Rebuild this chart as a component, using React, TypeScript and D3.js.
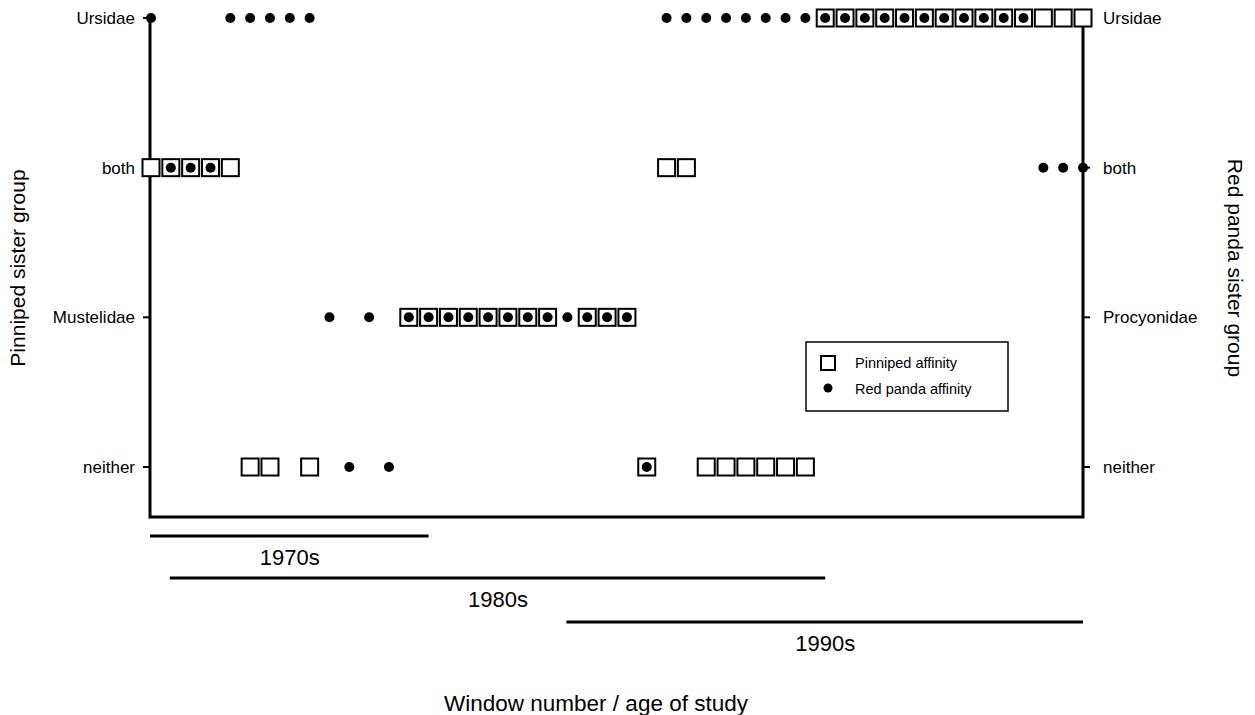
import React from "react";
import * as d3 from "d3";

// row labels on each side (same rows, the third one differs)
const leftLabels = ["Ursidae", "both", "Mustelidae", "neither"];
const rightLabels = ["Ursidae", "both", "Procyonidae", "neither"];

// pinniped sister group per window (0..47), null = no result
const pinniped = [
  "both", "both", "both", "both", "both", "neither", "neither", null, "neither", null,
  null, null, null, "Mustelidae", "Mustelidae", "Mustelidae", "Mustelidae", "Mustelidae", "Mustelidae", "Mustelidae",
  "Mustelidae", null, "Mustelidae", "Mustelidae", "Mustelidae", "neither", "both", "both", "neither", "neither",
  "neither", "neither", "neither", "neither", "Ursidae", "Ursidae", "Ursidae", "Ursidae", "Ursidae", "Ursidae",
  "Ursidae", "Ursidae", "Ursidae", "Ursidae", "Ursidae", "Ursidae", "Ursidae", "Ursidae",
];

// red panda sister group per window
const redPanda = [
  "Ursidae", "both", "both", "both", "Ursidae", "Ursidae", "Ursidae", "Ursidae", "Ursidae", "Procyonidae",
  "neither", "Procyonidae", "neither", "Procyonidae", "Procyonidae", "Procyonidae", "Procyonidae", "Procyonidae", "Procyonidae", "Procyonidae",
  "Procyonidae", "Procyonidae", "Procyonidae", "Procyonidae", "Procyonidae", "neither", "Ursidae", "Ursidae", "Ursidae", "Ursidae",
  "Ursidae", "Ursidae", "Ursidae", "Ursidae", "Ursidae", "Ursidae", "Ursidae", "Ursidae", "Ursidae", "Ursidae",
  "Ursidae", "Ursidae", "Ursidae", "Ursidae", "Ursidae", "both", "both", "both",
];

// decades covered by windows
const decades = ["1970s", "1980s", "1990s"];
const decadeStart = [0, 1, 21];
const decadeEnd = [14, 34, 47];

const width = 1255;
const height = 715;
const font = "Arial, 'Liberation Sans', Helvetica, sans-serif";

const App = () => {
  const x = d3.scaleLinear().domain([0, pinniped.length - 1]).range([151, 1083]);
  const y = d3.scalePoint().domain(d3.range(leftLabels.length).map(String)).range([18, 467]);
  const rowY = (i) => y(String(i));
  const axisBottom = 517;
  const xLeft = 150;
  const xRight = 1083;
  const sq = 17;

  return (
    <svg width={width} height={height} style={{ position: "absolute", left: 0, top: 0, background: "#fff" }} fontFamily={font}>
      {/* frame */}
      <path
        d={`M${xLeft},${rowY(0)}V${axisBottom}H${xRight}V${rowY(0)}`}
        fill="none"
        stroke="#000"
        strokeWidth={3}
      />
      {leftLabels.map((l, i) => (
        <g key={"l" + i}>
          <line x1={xLeft - 7} x2={xLeft} y1={rowY(i)} y2={rowY(i)} stroke="#000" strokeWidth={2} />
          <text x={135} y={rowY(i)} dy="0.35em" textAnchor="end" fontSize={17}>{l}</text>
        </g>
      ))}
      {rightLabels.map((l, i) => (
        <g key={"r" + i}>
          <line x1={xRight} x2={xRight + 7} y1={rowY(i)} y2={rowY(i)} stroke="#000" strokeWidth={2} />
          <text x={1103} y={rowY(i)} dy="0.35em" fontSize={17}>{l}</text>
        </g>
      ))}

      {/* pinniped squares */}
      {pinniped.map((c, i) =>
        c == null ? null : (
          <rect
            key={"p" + i}
            x={x(i) - sq / 2}
            y={rowY(leftLabels.indexOf(c)) - sq / 2}
            width={sq}
            height={sq}
            fill="#fff"
            stroke="#000"
            strokeWidth={2}
          />
        )
      )}
      {/* red panda dots */}
      {redPanda.map((c, i) =>
        c == null ? null : (
          <circle key={"d" + i} cx={x(i)} cy={rowY(rightLabels.indexOf(c))} r={5} fill="#000" />
        )
      )}

      {/* legend */}
      <rect x={806} y={342} width={202} height={69} fill="#fff" stroke="#000" strokeWidth={1.5} />
      <rect x={821} y={356} width={14} height={14} fill="#fff" stroke="#000" strokeWidth={2} />
      <circle cx={828} cy={388} r={4.5} fill="#000" />
      <text x={855} y={363} dy="0.35em" fontSize={14.5}>Pinniped affinity</text>
      <text x={855} y={389} dy="0.35em" fontSize={14.5}>Red panda affinity</text>

      {/* decade bars */}
      {decades.map((d, i) => {
        const by = [536, 578, 622][i];
        return (
          <g key={d}>
            <line x1={x(decadeStart[i]) - 1} x2={x(decadeEnd[i])} y1={by} y2={by} stroke="#000" strokeWidth={3} />
            <text x={(x(decadeStart[i]) + x(decadeEnd[i])) / 2} y={by + 29} textAnchor="middle" fontSize={22}>{d}</text>
          </g>
        );
      })}

      {/* axis titles */}
      <text x={596} y={711} textAnchor="middle" fontSize={22.5}>Window number / age of study</text>
      <text transform={`translate(25,268) rotate(-90)`} textAnchor="middle" fontSize={21}>Pinniped sister group</text>
      <text transform={`translate(1228,268) rotate(90)`} textAnchor="middle" fontSize={21}>Red panda sister group</text>
    </svg>
  );
};

export default App;
